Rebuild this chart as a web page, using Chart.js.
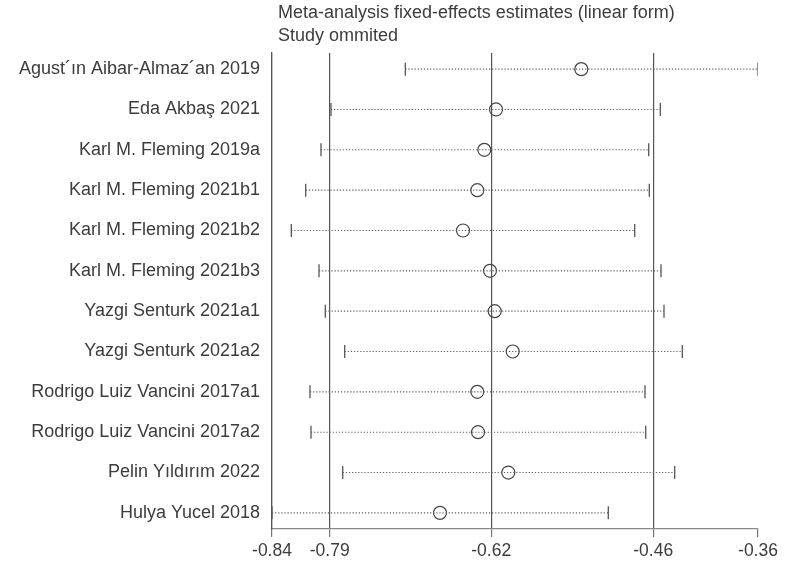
<!DOCTYPE html>
<html>
<head>
<meta charset="utf-8">
<script src="https://cdn.jsdelivr.net/npm/chart.js@4.4.0/dist/chart.umd.min.js"></script>
<style>
  body { margin: 0; background: #fff; }
  #wrap { width: 800px; height: 575px; }
</style>
</head>
<body>
<div id="wrap"><canvas id="chart" width="800" height="575"></canvas></div>
<script>
// Leave-one-out sensitivity: each row = estimate with that study omitted
const studies = [
  'Agust\u00b4\u0131n Aibar-Almaz\u00b4an 2019',
  'Eda Akba\u015f 2021',
  'Karl M. Fleming 2019a',
  'Karl M. Fleming 2021b1',
  'Karl M. Fleming 2021b2',
  'Karl M. Fleming 2021b3',
  'Yazgi Senturk 2021a1',
  'Yazgi Senturk 2021a2',
  'Rodrigo Luiz Vancini 2017a1',
  'Rodrigo Luiz Vancini 2017a2',
  'Pelin Y\u0131ld\u0131r\u0131m 2022',
  'Hulya Yucel 2018'
];
const estimates = [-0.5342, -0.6195, -0.6312, -0.6382, -0.6525, -0.6255, -0.6208, -0.6028, -0.6382, -0.6375, -0.6072, -0.6755];
const lowerCI   = [-0.7102, -0.7845, -0.7945, -0.8098, -0.8242, -0.7965, -0.7902, -0.7708, -0.8055, -0.8045, -0.7728, -0.8435];
const upperCI   = [-0.3575, -0.4552, -0.4668, -0.4662, -0.4808, -0.4545, -0.4515, -0.4332, -0.4705, -0.4698, -0.4408, -0.5072];

// min lower, overall lower CI, overall estimate, overall upper CI, max upper
const xTicks = [-0.8435, -0.7858, -0.6243, -0.4623, -0.3575];
const titleLines = ['Meta-analysis fixed-effects estimates (linear form)', 'Study ommited'];

const FONT = '"Liberation Sans", Arial, sans-serif';
const TEXT = '#3c3c3c';
const LINE = '#555';

const rows = studies.map((s, i) => i + 1);

// dotted CI lines, one dataset per study
const ciSets = studies.map((s, i) => ({
  type: 'line',
  data: [{ x: lowerCI[i], y: rows[i] }, { x: upperCI[i], y: rows[i] }],
  borderColor: '#5e5e5e',
  borderWidth: 1.1,
  borderDash: [1.2, 1.9],
  pointRadius: 0,
  fill: false
}));

const capPoints = [];
studies.forEach((s, i) => {
  capPoints.push({ x: lowerCI[i], y: rows[i] });
  capPoints.push({ x: upperCI[i], y: rows[i] });
});

const titlePlugin = {
  id: 'leftTitle',
  afterDraw(chart) {
    const ctx = chart.ctx;
    ctx.save();
    ctx.font = '18px ' + FONT;
    ctx.fillStyle = TEXT;
    ctx.textBaseline = 'alphabetic';
    ctx.textAlign = 'left';
    ctx.fillText(titleLines[0], chart.chartArea.left + 6, 18);
    ctx.fillText(titleLines[1], chart.chartArea.left + 6, 41);
    ctx.restore();
  }
};

new Chart(document.getElementById('chart'), {
  type: 'scatter',
  data: {
    datasets: [
      ...ciSets,
      {
        data: capPoints,
        pointStyle: 'line',
        rotation: 90,
        pointRadius: 6.5,
        pointBorderWidth: 1.3,
        pointBorderColor: LINE,
        borderColor: LINE
      },
      {
        data: estimates.map((v, i) => ({ x: v, y: rows[i] })),
        pointStyle: 'circle',
        pointRadius: 6.5,
        pointBorderWidth: 1.2,
        pointBorderColor: '#444',
        pointBackgroundColor: 'rgba(0,0,0,0)'
      }
    ]
  },
  options: {
    responsive: false,
    animation: false,
    events: [],
    layout: { padding: { top: 53, right: 42, left: 0, bottom: 0 } },
    plugins: { legend: { display: false }, tooltip: { enabled: false } },
    scales: {
      x: {
        type: 'linear',
        min: xTicks[0],
        max: xTicks[xTicks.length - 1],
        afterBuildTicks: sc => { sc.ticks = xTicks.map(v => ({ value: v })); },
        afterFit: sc => { sc.height = 46; },
        ticks: {
          autoSkip: false,
          maxRotation: 0,
          padding: 4,
          color: TEXT,
          font: { family: FONT, size: 17.5 },
          callback: v => Number(v).toFixed(2)
        },
        grid: {
          drawOnChartArea: true,
          drawTicks: true,
          tickLength: 8,
          color: ctx => ctx.index === xTicks.length - 1 ? 'rgba(0,0,0,0)' : LINE,
          tickColor: '#777',
          lineWidth: 1.2
        },
        border: { display: true, color: '#888', width: 1.2 }
      },
      y: {
        type: 'linear',
        reverse: true,
        min: 0.6,
        max: 12.4,
        afterBuildTicks: sc => { sc.ticks = rows.map(v => ({ value: v })); },
        afterFit: sc => { sc.width = 272; },
        ticks: {
          autoSkip: false,
          padding: 12,
          color: TEXT,
          font: { family: FONT, size: 18 },
          callback: v => studies[Math.round(v) - 1]
        },
        grid: { display: true, drawOnChartArea: false, drawTicks: false },
        border: { display: true, color: LINE, width: 1.2 }
      }
    }
  },
  plugins: [titlePlugin]
});
</script>
</body>
</html>
